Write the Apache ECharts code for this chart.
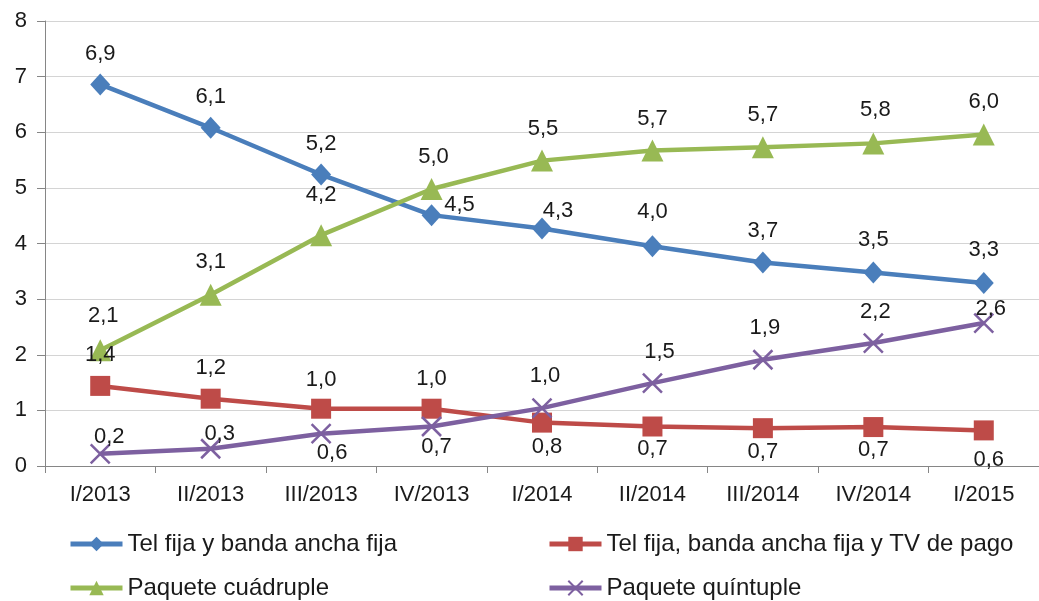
<!DOCTYPE html>
<html>
<head>
<meta charset="utf-8">
<script src="https://cdn.jsdelivr.net/npm/echarts@6/dist/echarts.min.js"></script>
<style>
  html, body { margin: 0; padding: 0; background: #fff; }
  #chart { width: 1039px; height: 601px; }
</style>
</head>
<body>
<div id="chart"></div>
<script>
// datos
var categories = ['I/2013', 'II/2013', 'III/2013', 'IV/2013', 'I/2014', 'II/2014', 'III/2014', 'IV/2014', 'I/2015'];
var telBanda = [6.86, 6.08, 5.24, 4.51, 4.27, 3.95, 3.66, 3.48, 3.29];
var telBandaTv = [1.44, 1.21, 1.03, 1.03, 0.78, 0.71, 0.68, 0.70, 0.64];
var cuadruple = [2.08, 3.08, 4.15, 4.98, 5.49, 5.67, 5.73, 5.80, 5.96];
var quintuple = [0.22, 0.31, 0.58, 0.71, 1.04, 1.49, 1.91, 2.21, 2.57];
var yTicks = [0, 1, 2, 3, 4, 5, 6, 7, 8];

// donde va cada etiqueta (dx, dy desde el punto)
var offTel = [[0,-30],[0,-31],[0,-31],[28,-10],[16,-18],[0,-34],[0,-31],[0,-32],[0,-33]];
var offTv = [[0,-31],[0,-31],[0,-29],[0,-30],[5,24],[0,22],[0,24],[0,23],[5,30]];
var offCuad = [[3,-34],[0,-33],[0,-40],[2,-32],[1,-32],[0,-32],[0,-32],[2,-33],[0,-33]];
var offQuin = [[9,-17],[9,-15],[11,19],[5,20],[3,-32],[7,-31],[2,-32],[2,-31],[7,-14]];

var fmt = function (v) { return v.toFixed(1).replace('.', ','); };
var font = 'Liberation Sans, Arial, sans-serif';

function points(vals, offs) {
    return vals.map(function (v, i) {
        return {
            value: v,
            label: { position: 'inside', offset: offs[i] }
        };
    });
}

function serie(name, vals, offs, color, symbol, size, extra) {
    var s = {
        name: name,
        type: 'line',
        data: points(vals, offs),
        symbol: symbol,
        symbolSize: size,
        lineStyle: { color: color, width: 4.5 },
        itemStyle: { color: color },
        label: {
            show: true,
            fontFamily: font,
            fontSize: 22,
            color: '#1a1a1a',
            formatter: function (p) { return fmt(p.value); }
        },
        emphasis: { disabled: true },
        animation: false
    };
    if (extra) s.itemStyle = extra;
    return s;
}

var cruz = 'path://M0,0L10,10M10,0L0,10';

var series = [
    serie('Tel fija y banda ancha fija', telBanda, offTel, '#4a7ebb', 'diamond', [20, 22]),
    serie('Tel fija, banda ancha fija y TV de pago', telBandaTv, offTv, '#be4b48', 'rect', 20),
    serie('Paquete cuádruple', cuadruple, offCuad, '#98b954', 'triangle', 22),
    serie('Paquete quíntuple', quintuple, offQuin, '#7d60a0', cruz, 19,
        { color: 'rgba(0,0,0,0)', borderColor: '#7d60a0', borderWidth: 2.5 })
];

var legendPos = [[63, 527], [542, 527], [63, 571], [542, 571]];

var legends = series.map(function (s, i) {
    return {
        data: [s.name],
        left: legendPos[i][0],
        top: legendPos[i][1],
        itemWidth: 52,
        itemHeight: 18,
        itemGap: 0,
        itemTextGap: 4,
        selectedMode: false,
        lineStyle: { width: 5 },
        textStyle: { fontFamily: font, fontSize: 24, color: '#1a1a1a' }
    };
});

var chart = echarts.init(document.getElementById('chart'), null, { renderer: 'canvas' });

chart.setOption({
    backgroundColor: '#ffffff',
    animation: false,
    legend: legends,
    grid: { left: 45, top: 21, width: 1005, height: 445, containLabel: false },
    xAxis: {
        type: 'category',
        data: categories,
        boundaryGap: true,
        axisLine: { lineStyle: { color: '#868686', width: 1 } },
        axisTick: { show: true, alignWithLabel: false, length: 7, lineStyle: { color: '#868686' } },
        axisLabel: { fontFamily: font, fontSize: 22, color: '#1a1a1a', margin: 18, interval: 0 },
        splitLine: { show: false }
    },
    yAxis: {
        type: 'value',
        min: yTicks[0],
        max: yTicks[yTicks.length - 1],
        interval: 1,
        axisLine: { show: true, lineStyle: { color: '#868686', width: 1 } },
        axisTick: { show: true, length: 8, lineStyle: { color: '#868686' } },
        axisLabel: { fontFamily: font, fontSize: 22, color: '#1a1a1a', margin: 18 },
        splitLine: { show: true, lineStyle: { color: '#d4d4d4', width: 1 } }
    },
    series: series
});
</script>
</body>
</html>
